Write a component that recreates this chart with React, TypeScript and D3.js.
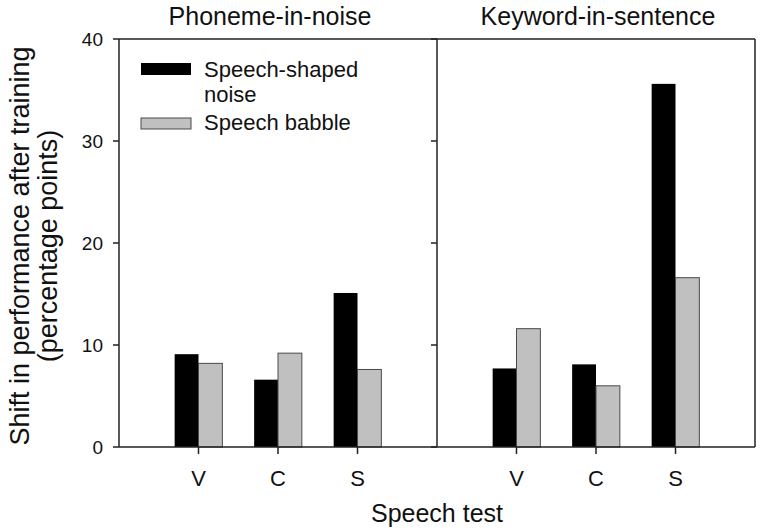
import * as d3 from 'd3';

// categories and series
const tests = ['V', 'C', 'S'];
const panels = ['Phoneme-in-noise', 'Keyword-in-sentence'];
const seriesNames = ['Speech-shaped noise', 'Speech babble'];
const ssnPhoneme = [9.1, 6.6, 15.1];
const babblePhoneme = [8.2, 9.2, 7.6];
const ssnKeyword = [7.7, 8.1, 35.6];
const babbleKeyword = [11.6, 6.0, 16.6];
const yTicks = [0, 10, 20, 30, 40];

const W = 774;
const H = 532;
const FONT = '"Liberation Sans", Arial, Helvetica, sans-serif';

export default function App() {
  const top = 39;
  const bottom = 447;
  const left = 119;
  const panelW = 318;

  const y = d3.scaleLinear().domain([0, 40]).range([bottom, top]);
  const panelData = [
    { title: panels[0], ssn: ssnPhoneme, babble: babblePhoneme, titleX: 270 },
    { title: panels[1], ssn: ssnKeyword, babble: babbleKeyword, titleX: 598 },
  ];

  return (
    <svg width={W} height={H} style={{ position: 'absolute', left: 0, top: 0, background: '#fff' }}
      fontFamily={FONT}>
      {panelData.map((p, pi) => {
        const x0 = left + pi * panelW;
        const x = d3.scaleLinear().domain([0, 4]).range([x0, x0 + panelW]);
        const bw = x(0.3) - x(0);
        return (
          <g key={p.title}>
            {/* bars */}
            {tests.map((t, i) => (
              <g key={t}>
                <rect x={x(i + 1) - bw} y={y(p.ssn[i])} width={bw} height={y(0) - y(p.ssn[i])}
                  fill="#000" />
                <rect x={x(i + 1)} y={y(p.babble[i])} width={bw} height={y(0) - y(p.babble[i])}
                  fill="#c0c0c0" stroke="#4a4a4a" strokeWidth={1} />
              </g>
            ))}
            {/* frame */}
            <line x1={x0} x2={x0 + panelW} y1={top} y2={top} stroke="#222" strokeWidth={1.5} />
            <line x1={x0} x2={x0 + panelW} y1={bottom} y2={bottom} stroke="#222" strokeWidth={1.5} />
            <line x1={x0} x2={x0} y1={top} y2={bottom} stroke="#222" strokeWidth={1.5} />
            {pi === 1 && (
              <line x1={x0 + panelW} x2={x0 + panelW} y1={top} y2={bottom} stroke="#222" strokeWidth={1.5} />
            )}
            {/* y ticks (outward from each panel's left axis) */}
            {yTicks.map((v) => (
              <line key={v} x1={x0 - 6} x2={x0} y1={y(v)} y2={y(v)} stroke="#222" strokeWidth={1.5} />
            ))}
            {/* x ticks */}
            {tests.map((t, i) => (
              <g key={t}>
                <line x1={x(i + 1)} x2={x(i + 1)} y1={bottom} y2={bottom + 7} stroke="#222" strokeWidth={1.5} />
                <text x={x(i + 1)} y={486} textAnchor="middle" fontSize={22} fill="#111">{t}</text>
              </g>
            ))}
            <text x={p.titleX} y={25} textAnchor="middle" fontSize={25} fill="#111">{p.title}</text>
          </g>
        );
      })}

      {/* y tick labels */}
      {yTicks.map((v) => (
        <text key={v} x={103} y={y(v) + 7} textAnchor="end" fontSize={19} fill="#111">{v}</text>
      ))}

      {/* legend */}
      <rect x={141} y={63} width={50} height={12} fill="#000" />
      <text x={204} y={77} fontSize={22} fill="#111">Speech-shaped</text>
      <text x={204} y={102} fontSize={22} fill="#111">noise</text>
      <rect x={141} y={118} width={50} height={11} fill="#c0c0c0" stroke="#4a4a4a" strokeWidth={1} />
      <text x={204} y={130} fontSize={22} fill="#111">{seriesNames[1]}</text>

      {/* axis titles */}
      <text x={437} y={522} textAnchor="middle" fontSize={25} fill="#111">Speech test</text>
      <text transform="translate(29,246) rotate(-90)" textAnchor="middle" fontSize={27} fill="#111">
        Shift in performance after training
      </text>
      <text transform="translate(57,246) rotate(-90)" textAnchor="middle" fontSize={27} fill="#111">
        (percentage points)
      </text>
    </svg>
  );
}
